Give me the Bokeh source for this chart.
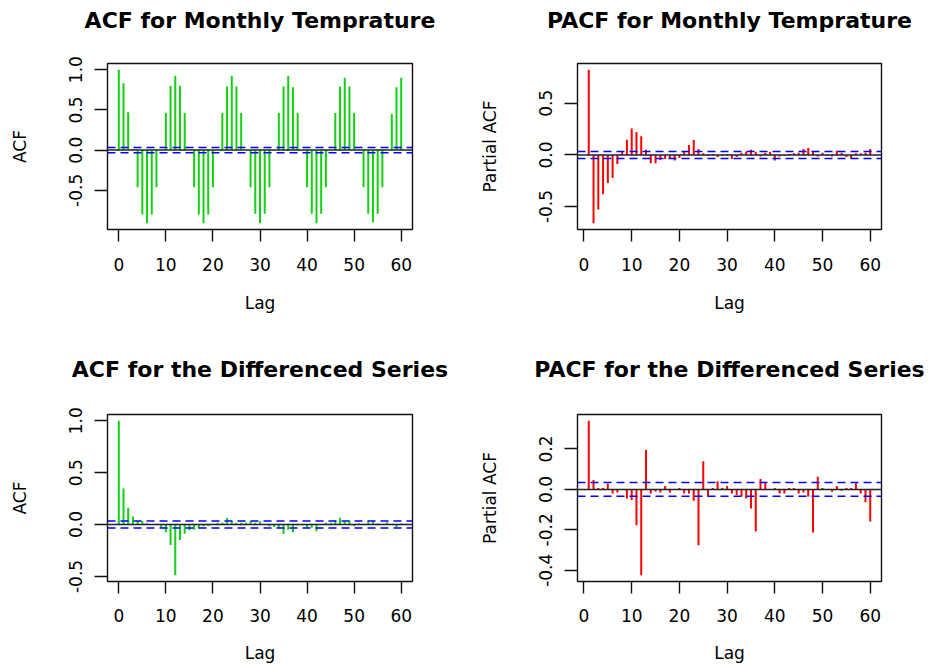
from bokeh.plotting import figure
from bokeh.models import Range1d, FixedTicker, NumeralTickFormatter, Span, Title
from bokeh.layouts import column, row
from bokeh.embed import file_html
from bokeh.resources import INLINE

# ---------------- data ----------------
lags_acf = list(range(0, 61))
lags_pacf = list(range(1, 61))

acf_temp = [1.00, 0.83, 0.47, 0.01, -0.46, -0.80, -0.91, -0.80, -0.46, 0.00,
            0.46, 0.80, 0.92, 0.80, 0.46, 0.00, -0.46, -0.80, -0.91, -0.80,
            -0.46, 0.00, 0.46, 0.79, 0.92, 0.79, 0.46, 0.00, -0.46, -0.79,
            -0.91, -0.79, -0.46, 0.00, 0.46, 0.79, 0.92, 0.78, 0.46, 0.00,
            -0.46, -0.79, -0.91, -0.79, -0.46, 0.00, 0.46, 0.79, 0.90, 0.79,
            0.46, 0.00, -0.46, -0.79, -0.90, -0.79, -0.46, 0.00, 0.45, 0.78,
            0.90]

pacf_temp = [0.826, -0.663, -0.530, -0.382, -0.273, -0.224, -0.089, 0.033, 0.147, 0.256,
             0.221, 0.182, 0.050, -0.080, -0.080, -0.050, -0.040, -0.040, -0.055, -0.030,
             0.030, 0.097, 0.145, 0.058, 0.016, -0.010, 0.010, -0.020, -0.010, 0.010,
             -0.040, -0.020, 0.020, 0.030, 0.050, 0.030, -0.015, 0.020, 0.030, -0.055,
             -0.015, -0.010, 0.010, 0.015, 0.020, 0.058, 0.068, 0.030, -0.015, 0.020,
             -0.010, -0.015, 0.040, 0.020, -0.020, -0.030, 0.015, 0.015, 0.020, 0.058]

acf_diff = [1.000, 0.346, 0.162, 0.078, 0.036, 0.034, 0.013, 0.006, -0.008, -0.036,
            -0.075, -0.197, -0.489, -0.149, -0.089, -0.055, -0.050, -0.038, -0.016, -0.013,
            0.006, 0.016, 0.016, 0.065, 0.032, 0.016, 0.016, 0.016, 0.032, 0.016,
            0.032, 0.006, -0.016, -0.024, -0.030, -0.090, -0.050, -0.074, -0.010, -0.006,
            -0.030, -0.030, -0.065, -0.004, 0.016, 0.016, 0.040, 0.065, 0.032, 0.040,
            -0.016, 0.010, 0.004, 0.032, 0.032, 0.010, 0.004, 0.023, 0.004, -0.026,
            0.010]

pacf_diff = [0.340, 0.046, 0.007, 0.007, 0.028, -0.020, -0.015, 0.000, -0.045, -0.053,
             -0.177, -0.425, 0.195, -0.020, -0.010, -0.015, 0.017, -0.015, 0.000, 0.007,
             -0.020, -0.020, -0.056, -0.276, 0.139, -0.035, 0.007, 0.040, 0.007, 0.017,
             -0.020, -0.028, -0.035, -0.045, -0.094, -0.208, 0.051, 0.031, 0.000, 0.007,
             -0.020, -0.020, 0.007, 0.007, -0.020, -0.015, -0.035, -0.213, 0.063, 0.007,
             0.000, -0.012, 0.017, -0.007, 0.007, 0.007, 0.031, -0.020, -0.064, -0.159]

conf_limit = 0.034

titles = ["ACF for Monthly Temprature", "PACF for Monthly Temprature",
          "ACF for the Differenced Series", "PACF for the Differenced Series"]
ylabels = ["ACF", "Partial ACF", "ACF", "Partial ACF"]
x_ticks = [0, 10, 20, 30, 40, 50, 60]
y_ticks = [[-0.5, 0.0, 0.5, 1.0], [-0.5, 0.0, 0.5],
           [-0.5, 0.0, 0.5, 1.0], [-0.4, -0.2, 0.0, 0.2]]

FONT = "DejaVu Sans"
GREEN = "#14d014"
RED = "#ff0000"


def padded(lo, hi):
    ext = (hi - lo) * 0.04
    return lo - ext, hi + ext


def make_panel(lags, vals, color, title, ylabel, yticks, top_row, left_col):
    ylo, yhi = padded(min(min(vals), -conf_limit), max(max(vals), conf_limit))
    xlo, xhi = padded(min(lags), max(lags))
    b_left = 107 if left_col else 109
    b_right = 56 if left_col else 55
    b_top = 63 if top_row else 81
    b_bottom = 104 if top_row else 85
    p = figure(width=468, height=333, output_backend="svg", toolbar_location=None,
               title=None,
               x_range=Range1d(xlo, xhi), y_range=Range1d(ylo, yhi),
               min_border_left=b_left, min_border_right=b_right,
               min_border_top=b_top, min_border_bottom=b_bottom)

    p.xgrid.visible = False
    p.ygrid.visible = False
    p.outline_line_color = "#111111"
    p.outline_line_width = 1.4
    p.background_fill_color = "white"
    p.border_fill_color = "white"

    for ax in (p.xaxis[0], p.yaxis[0]):
        ax.axis_line_color = None
        ax.major_tick_line_color = "#111111"
        ax.major_tick_line_width = 1.4
        ax.major_tick_in = 0
        ax.minor_tick_line_color = None
        ax.major_label_text_font = FONT
        ax.major_label_text_font_size = "17px"
        ax.major_label_text_color = "black"
        ax.axis_label_text_font = FONT
        ax.axis_label_text_font_size = "17px"
        ax.axis_label_text_font_style = "normal"
        ax.axis_label_text_color = "black"

    xa = p.xaxis[0]
    xa.ticker = FixedTicker(ticks=x_ticks)
    xa.axis_label = "Lag"
    xa.major_tick_out = 12
    xa.major_label_standoff = 16 if top_row else 15
    xa.axis_label_standoff = 19 if top_row else 18

    ya = p.yaxis[0]
    ya.ticker = FixedTicker(ticks=yticks)
    ya.formatter = NumeralTickFormatter(format="0.0")
    ya.major_label_orientation = "vertical"
    ya.axis_label = ylabel
    ya.major_tick_out = 13
    ya.major_label_standoff = 12
    ya.axis_label_standoff = 37

    p.segment(x0=lags, y0=[0] * len(lags), x1=lags, y1=vals,
              line_color=color, line_width=2)
    p.add_layout(Span(location=0, dimension="width", line_color="#222222", line_width=1.5))
    for c in (conf_limit, -conf_limit):
        p.add_layout(Span(location=c, dimension="width", line_color="#0000ff",
                          line_width=1.5, line_dash="8 5"))

    # blank spacer title keeps the real title ~44px above the plot box
    p.add_layout(Title(text=" ", standoff=18 if top_row else 20,
                       text_font=FONT, text_font_size="10px"), "above")
    p.add_layout(Title(text=title, align="center", standoff=0,
                       text_font=FONT, text_font_size="22px",
                       text_font_style="bold", text_color="black"), "above")
    return p


p1 = make_panel(lags_acf, acf_temp, GREEN, titles[0], ylabels[0], y_ticks[0], True, True)
p2 = make_panel(lags_pacf, pacf_temp, RED, titles[1], ylabels[1], y_ticks[1], True, False)
p3 = make_panel(lags_acf, acf_diff, GREEN, titles[2], ylabels[2], y_ticks[2], False, True)
p4 = make_panel(lags_pacf, pacf_diff, RED, titles[3], ylabels[3], y_ticks[3], False, False)

layout = column(row(p1, p2), row(p3, p4))
open("out.html", "w").write(file_html(layout, INLINE))
